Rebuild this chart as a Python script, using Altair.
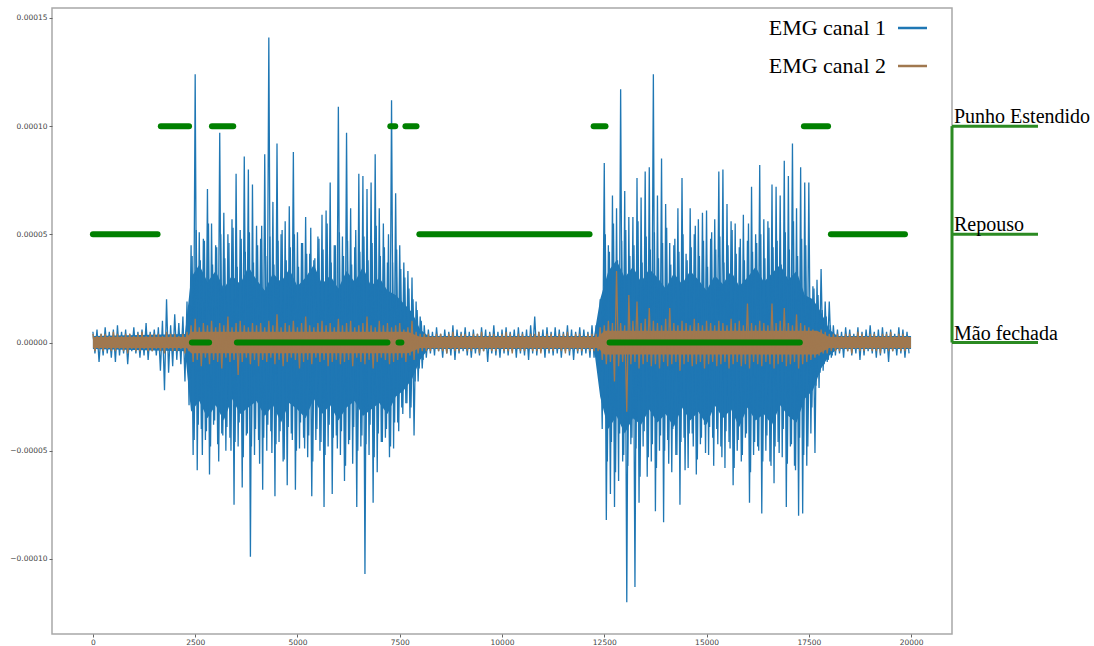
import altair as alt
import pandas as pd

# EMG envelope samples in units of 1e-6: one positive and one negative
# excursion for every block of SAMPLE_STEP samples
SAMPLE_STEP = 100

ch1_pos = [
    5, 6, 4, 7, 5, 6, 8, 5, 6, 4, 7, 5, 6, 9, 5, 6,
    7, 10, 20, 8, 13, 9, 12, 19,
    45, 124, 51, 48, 71, 55, 45, 97, 60, 50, 57, 78, 52, 86, 80, 73, 54,
    48, 87, 141, 65, 92, 50, 56, 63, 88, 51, 46, 58, 41, 38, 49, 59, 61, 74, 45, 109,
    49, 97, 62, 44, 78, 77, 71, 74, 87, 62, 55, 37, 112, 69, 45, 37, 33, 30, 19, 12, 8,
    6, 5, 7, 4, 6, 5, 8, 6, 5, 7,
    5, 6, 4, 7, 6, 5, 8, 5, 6, 7,
    5, 6, 7, 5, 6, 8, 12, 5, 6, 7,
    5, 7, 6, 5, 8, 6, 5, 7, 6, 5, 8,
    8, 20,
    83, 45, 68, 62, 117, 70, 58, 58, 76, 67, 79, 81,
    124, 68, 85, 64, 46, 45, 62, 76, 41, 62, 50, 57, 60, 61,
    48, 57, 79, 80, 64, 56, 55, 44, 59, 47, 72, 50, 82, 57, 56,
    73, 72, 68, 84, 77, 92, 62, 81, 74, 74, 26, 29, 34, 19, 19, 8,
    6, 5, 7, 6, 4, 7, 5, 6, 8, 5, 6, 7, 5, 6, 4, 7, 6, 5,
]
ch1_neg = [
    -5, -9, -6, -5, -7, -9, -6, -5, -10, -4, -5, -7, -6, -8, -4, -6,
    -13, -22, -14, -11, -8, -10, -18, -29,
    -52, -59, -40, -45, -61, -38, -47, -42, -50, -44, -75, -48, -67, -43, -99, -52, -45,
    -68, -50, -41, -71, -46, -55, -66, -42, -68, -49, -44, -53, -71, -45, -50, -76, -48, -70, -43, -52,
    -64, -47, -56, -76, -48, -107, -52, -74, -60, -46, -44, -53, -49, -37, -30, -28, -35, -43, -18, -12, -7,
    -5, -6, -4, -7, -5, -6, -8, -5, -4, -6,
    -7, -5, -6, -4, -9, -5, -6, -7, -5, -6,
    -4, -7, -5, -6, -8, -5, -6, -4, -7, -5,
    -6, -5, -7, -4, -6, -8, -5, -6, -5, -7, -7,
    -12, -40,
    -82, -70, -76, -64, -55, -120, -47, -113, -74, -48, -62, -55,
    -78, -50, -83, -45, -60, -52, -75, -44, -58, -42, -61, -47, -38, -52,
    -44, -40, -48, -58, -46, -66, -50, -55, -44, -74, -52, -48, -79, -50, -55,
    -65, -46, -53, -76, -48, -57, -80, -79, -57, -42, -51, -21, -13, -9, -7, -6,
    -5, -7, -4, -6, -5, -8, -6, -4, -5, -7, -6, -5, -9, -4, -6, -5, -7, -5,
]

# Extra channel-1 excursions between the main ones inside the two bursts
burst_start = [24, 124]
burst1_pos = [40, 52, 38, 47, 55, 36, 44, 50, 39, 46, 53, 35, 48, 42, 51, 37, 45, 54, 40,
              49, 36, 47, 52, 38, 44, 50, 35, 46, 41, 53, 39, 48, 43, 55, 37, 45, 51, 40,
              47, 36, 52, 42, 49, 38, 46, 54, 40, 44, 50, 37, 43, 34, 30, 25, 20, 15, 10]
burst1_neg = [-45, -38, -52, -41, -48, -36, -55, -43, -39, -50, -46, -37, -53, -42, -48, -40,
              -56, -44, -38, -51, -47, -41, -54, -39, -45, -50, -37, -49, -43, -55, -40, -46,
              -52, -38, -44, -49, -41, -57, -45, -39, -50, -43, -47, -38, -53, -42, -46, -40,
              -48, -37, -41, -33, -28, -30, -18, -12, -8]
burst2_pos = [15, 50, 42, 55, 38, 47, 52, 40, 45, 56, 37, 49, 43, 51, 39, 46, 53, 36, 48,
              42, 50, 38, 44, 54, 40, 47, 35, 51, 43, 49, 37, 45, 52, 41, 48, 38, 55, 42,
              46, 50, 39, 53, 44, 47, 36, 51, 43, 56, 40, 48, 45, 20, 25, 22, 15, 12, 8]
burst2_neg = [-20, -55, -46, -60, -42, -52, -57, -44, -49, -62, -41, -53, -47, -58, -43, -50,
              -56, -40, -52, -46, -59, -42, -48, -54, -44, -51, -39, -57, -47, -53, -41, -49,
              -58, -45, -52, -42, -60, -46, -50, -55, -43, -57, -48, -51, -40, -56, -47, -59,
              -44, -52, -48, -30, -20, -14, -10, -8, -6]

ch2_pos = [
    4, 3, 4, 4, 3, 5, 4, 3, 4, 4, 3, 4, 5, 3, 4, 4,
    4, 3, 5, 4, 4, 3, 4, 5,
    8, 11, 7, 9, 8, 10, 7, 9, 8, 12, 7, 9, 10, 8, 7, 9, 8,
    9, 7, 10, 8, 13, 7, 9, 8, 10, 7, 9, 12, 8, 7, 9, 10, 8, 9, 7, 11,
    8, 9, 10, 7, 8, 9, 12, 8, 7, 10, 8, 9, 7, 8, 9, 6, 7, 10, 5, 4, 4,
    4, 3, 4, 4, 3, 4, 5, 3, 4, 4,
    3, 4, 4, 5, 3, 4, 4, 3, 4, 5,
    4, 3, 4, 4, 3, 4, 4, 5, 3, 4,
    4, 3, 4, 4, 5, 3, 4, 4, 3, 4, 4,
    4, 7,
    8, 10, 9, 33, 9, 8, 22, 10, 19, 9, 11, 16,
    10, 9, 8, 11, 16, 9, 8, 10, 9, 8, 11, 9, 8, 10,
    9, 8, 10, 9, 8, 11, 9, 10, 8, 18, 9, 8, 10, 9, 8,
    18, 9, 10, 16, 9, 8, 13, 9, 8, 7, 6, 5, 6, 5, 4, 4,
    4, 3, 4, 4, 3, 5, 4, 3, 4, 4, 3, 4, 4, 5, 3, 4, 4, 3,
]
ch2_neg = [
    -4, -3, -4, -3, -4, -4, -3, -4, -5, -3, -4, -4, -3, -4, -4, -3,
    -4, -5, -3, -4, -4, -3, -5, -4,
    -9, -8, -11, -7, -10, -8, -9, -12, -7, -9, -8, -15, -9, -7, -10, -8, -11,
    -8, -9, -7, -10, -8, -11, -9, -7, -8, -12, -9, -8, -10, -7, -9, -8, -11, -9, -8, -10,
    -9, -8, -11, -7, -9, -10, -8, -12, -9, -7, -8, -10, -9, -8, -7, -9, -6, -8, -5, -4, -4,
    -4, -3, -4, -4, -5, -3, -4, -4, -3, -4,
    -4, -3, -5, -4, -3, -4, -4, -3, -4, -4,
    -5, -3, -4, -4, -3, -4, -4, -5, -3, -4,
    -4, -3, -4, -5, -4, -3, -4, -4, -3, -4, -4,
    -4, -8,
    -10, -9, -18, -11, -9, -32, -10, -9, -12, -10, -9, -11,
    -10, -12, -9, -11, -10, -9, -13, -10, -9, -11, -10, -9, -12, -10,
    -9, -11, -10, -9, -12, -10, -9, -11, -10, -12, -9, -10, -11, -9, -10,
    -12, -10, -9, -11, -10, -9, -12, -10, -9, -8, -7, -6, -5, -5, -4, -4,
    -4, -3, -4, -5, -3, -4, -4, -3, -4, -4, -5, -3, -4, -4, -3, -4, -4, -3,
]

# Dense core of channel 1, where the trace overlaps into a solid band (1e-6 units)
ch1_core_x = [
    0, 2250,
    2400, 2600, 2800, 3000, 3200, 3400, 3600, 3800, 4000, 4200, 4400, 4600, 4800, 5000,
    5200, 5400, 5600, 5800, 6000, 6200, 6400, 6600, 6800, 7000, 7200, 7400, 7600, 7800,
    8000, 8200, 12250,
    12400, 12600, 12800, 13000, 13200, 13400, 13600, 13800, 14000, 14200, 14400, 14600, 14800, 15000,
    15200, 15400, 15600, 15800, 16000, 16200, 16400, 16600, 16800, 17000, 17200, 17400, 17600, 17800,
    18000, 18200, 19999,
]
ch1_core_hi = [
    3, 4,
    30, 36, 28, 33, 25, 31, 27, 35, 29, 24, 32, 28, 34, 26,
    30, 36, 27, 31, 25, 33, 28, 35, 26, 30, 24, 22, 18, 14,
    6, 3, 3,
    20, 33, 38, 30, 35, 28, 34, 30, 25, 32, 27, 33, 29, 24,
    31, 27, 33, 26, 30, 35, 28, 32, 36, 29, 33, 22, 20, 14,
    6, 3, 3,
]
ch1_core_lo = [
    -3, -4,
    -32, -27, -35, -29, -36, -26, -33, -30, -27, -34, -29, -37, -28, -31,
    -35, -26, -33, -29, -36, -30, -27, -34, -31, -28, -33, -25, -22, -17,
    -8, -3, -3,
    -25, -40, -34, -42, -35, -38, -31, -37, -33, -39, -30, -36, -32, -38,
    -29, -35, -31, -39, -30, -36, -33, -38, -29, -34, -37, -26, -22, -12,
    -6, -3, -3,
]

# Dense core of channel 2
ch2_core_x = [0, 2300, 2400, 7700, 8000, 12350, 12500, 17700, 18000, 19999]
ch2_core_hi = [2.5, 2.5, 5, 5, 2.5, 2.5, 5.5, 5.5, 2.5, 2.5]
ch2_core_lo = [-2.5, -2.5, -5, -5, -2.5, -2.5, -5.5, -5.5, -2.5, -2.5]

# Hand-state labels over time (sample ranges)
seg_start = [0, 1660, 2420, 2910, 3520, 7270, 7470, 7640, 7980, 12240, 12630, 17380, 18040]
seg_end = [1580, 2350, 2840, 3430, 7200, 7390, 7540, 7910, 12140, 12530, 17280, 17970, 19850]
seg_state = ["Repouso", "Punho Estendido", "Mão fechada", "Punho Estendido", "Mão fechada",
             "Punho Estendido", "Mão fechada", "Punho Estendido", "Repouso",
             "Punho Estendido", "Mão fechada", "Punho Estendido", "Repouso"]

state_names = ["Punho Estendido", "Repouso", "Mão fechada"]
state_levels = [0.0001, 0.00005, 0.0]

series_names = ["EMG canal 1", "EMG canal 2"]
series_colors = ["#1f77b4", "#a0784f"]

x_ticks = [0, 2500, 5000, 7500, 10000, 12500, 15000, 17500, 20000]
y_ticks = [-0.0001, -0.00005, 0.0, 0.00005, 0.0001, 0.00015]

MICRO = 1e-6


def signal_frame(pos, neg, first=0, offset=0, part=0):
    rows = []
    for k, (p, n) in enumerate(zip(pos, neg), start=first):
        rows.append({"x": k * SAMPLE_STEP + offset, "v": p * MICRO, "part": part})
        rows.append({"x": k * SAMPLE_STEP + offset + SAMPLE_STEP // 2,
                     "v": n * MICRO, "part": part})
    return pd.DataFrame(rows)


def core_frame(xs, hi, lo):
    return pd.DataFrame({
        "x": xs,
        "hi": [h * MICRO for h in hi],
        "lo": [l * MICRO for l in lo],
    })


ch1 = signal_frame(ch1_pos, ch1_neg)
ch2 = signal_frame(ch2_pos, ch2_neg)
bursts = pd.concat([
    signal_frame(burst1_pos, burst1_neg, burst_start[0], SAMPLE_STEP // 4, 1),
    signal_frame(burst2_pos, burst2_neg, burst_start[1], SAMPLE_STEP // 4, 2),
], ignore_index=True)
core1 = core_frame(ch1_core_x, ch1_core_hi, ch1_core_lo)
core2 = core_frame(ch2_core_x, ch2_core_hi, ch2_core_lo)

level_of = dict(zip(state_names, state_levels))
segments = pd.DataFrame({
    "start": seg_start,
    "end": seg_end,
    "level": [level_of[s] for s in seg_state],
})
states = pd.DataFrame({"state": state_names, "level": state_levels})

x_scale = alt.Scale(domain=[-1000, 21000], nice=False, zero=False)
y_scale = alt.Scale(domain=[-0.0001347, 0.0001546], nice=False, zero=False)

x_axis = alt.Axis(values=x_ticks, format="d", title=None, labelPadding=1.5)
y_axis = alt.Axis(values=y_ticks, format=".5f", title=None, labelPadding=2)


def X(field):
    return alt.X(field, scale=x_scale, axis=x_axis)


def Y(field):
    return alt.Y(field, scale=y_scale, axis=y_axis)


band1 = alt.Chart(core1).mark_area(color=series_colors[0], opacity=1).encode(
    x=X("x:Q"), y=Y("hi:Q"), y2="lo:Q"
)
burst_lines = alt.Chart(bursts).mark_line(color=series_colors[0], strokeWidth=1.3).encode(
    x=X("x:Q"), y=Y("v:Q"), detail="part:N"
)
line1 = alt.Chart(ch1).mark_line(color=series_colors[0], strokeWidth=1.3).encode(
    x=X("x:Q"), y=Y("v:Q")
)
band2 = alt.Chart(core2).mark_area(color=series_colors[1], opacity=1).encode(
    x=X("x:Q"), y=Y("hi:Q"), y2="lo:Q"
)
line2 = alt.Chart(ch2).mark_line(color=series_colors[1], strokeWidth=1.3).encode(
    x=X("x:Q"), y=Y("v:Q")
)

state_track = alt.Chart(segments).mark_rule(
    color="#008000", strokeWidth=6, strokeCap="round"
).encode(
    x=X("start:Q"), x2="end:Q", y=Y("level:Q"),
)

# Bracket with the state names to the right of the plot
bracket_color = "#2b8a22"
bracket_spine = alt.Chart(
    pd.DataFrame({"top": [max(state_levels)], "bottom": [min(state_levels)]})
).mark_rule(color=bracket_color, strokeWidth=3).encode(
    x=alt.value(900), y=Y("top:Q"), y2="bottom:Q",
)
bracket_arms = alt.Chart(states).mark_rule(color=bracket_color, strokeWidth=3).encode(
    x=alt.value(900), x2=alt.value(986), y=Y("level:Q"),
)
bracket_text = alt.Chart(states).mark_text(
    align="left", baseline="alphabetic", dy=-3,
    font="Liberation Serif", fontSize=20, color="black",
).encode(
    x=alt.value(902), y=Y("level:Q"), text="state:N",
)

# Legend entries: label followed by a line swatch
legend_layers = []
for i, (name, col) in enumerate(zip(series_names, series_colors)):
    row = pd.DataFrame({"series": [name]})
    ypos = 20 + 38 * i
    legend_layers.append(
        alt.Chart(row).mark_rule(color=col, strokeWidth=2.5).encode(
            x=alt.value(846), x2=alt.value(875), y=alt.value(ypos)
        )
    )
    legend_layers.append(
        alt.Chart(row).mark_text(
            align="right", baseline="alphabetic",
            font="Liberation Serif", fontSize=22, color="black",
        ).encode(x=alt.value(834), y=alt.value(ypos + 7), text="series:N")
    )

chart = alt.layer(
    band1, burst_lines, line1, band2, line2, state_track,
    bracket_spine, bracket_arms, bracket_text, *legend_layers
).properties(
    width=900,
    height=626,
    autosize=alt.AutoSizeParams(type="none"),
    padding={"left": 52, "top": 8, "right": 142, "bottom": 12},
).configure_view(
    stroke="#a8a8a8", strokeWidth=1.5
).configure_axis(
    domain=False, grid=False,
    labelFont="DejaVu Sans", labelFontSize=7.5, labelColor="#444444",
    tickColor="#666666", tickSize=3,
)

chart.save("out.html", embed_options={"renderer": "svg", "actions": False})
